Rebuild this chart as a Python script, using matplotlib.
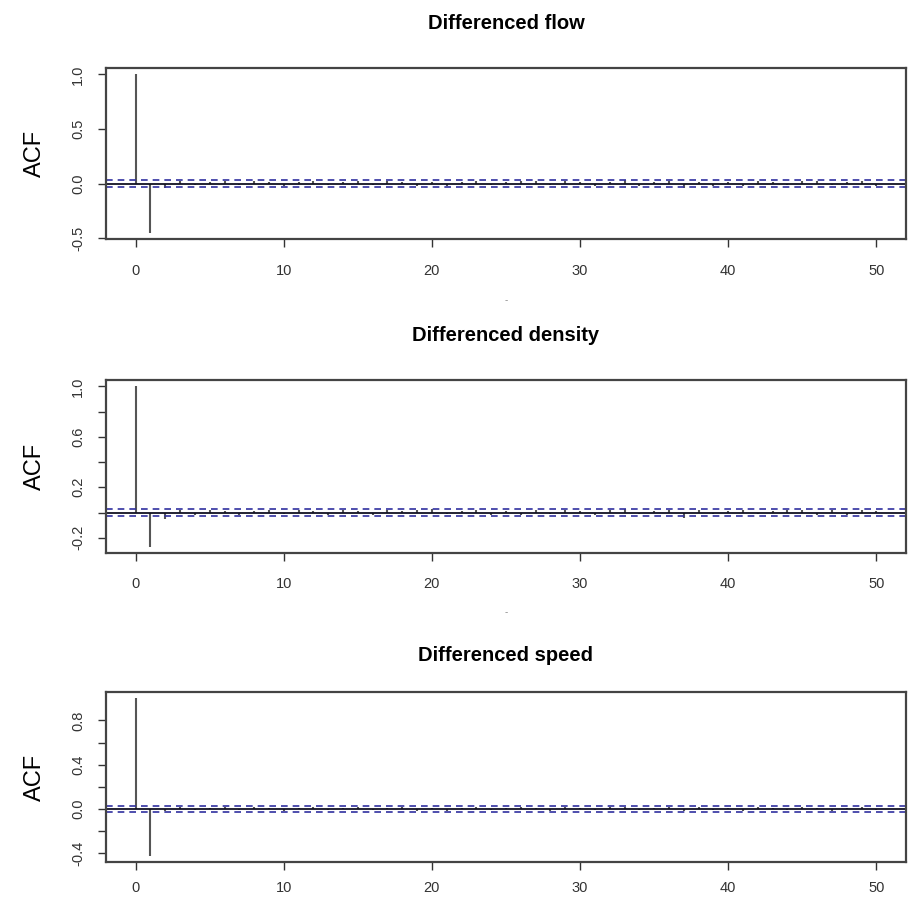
import numpy as np
import matplotlib
matplotlib.use("Agg")
import matplotlib.pyplot as plt

plt.rcParams['font.family'] = ['Liberation Sans', 'DejaVu Sans']

# ACF values, lags 0..50
lags = list(range(51))
flow_acf = [1.0, -0.45, -0.04, 0.02, -0.01, 0.01, 0.02, -0.01, 0.02, 0.01,
            -0.02, 0.01, 0.02, -0.01, 0.01, 0.02, -0.01, 0.02, 0.01, -0.02,
            0.01, -0.02, 0.01, 0.02, -0.01, 0.01, 0.02, 0.02, -0.01, 0.02,
            0.01, -0.02, 0.01, 0.03, -0.02, 0.01, 0.02, -0.04, 0.01, -0.02,
            0.01, -0.02, 0.02, 0.01, -0.01, 0.02, 0.02, -0.01, 0.01, 0.02, -0.02]
density_acf = [1.0, -0.27, -0.05, 0.02, -0.02, 0.02, 0.01, -0.02, 0.01, 0.02,
               -0.01, 0.02, 0.01, -0.02, 0.02, 0.01, -0.02, 0.02, 0.01, 0.02,
               0.03, -0.01, 0.01, 0.02, -0.02, 0.01, -0.02, 0.02, -0.01, 0.02,
               0.01, -0.02, 0.02, 0.03, -0.01, 0.01, 0.02, -0.04, 0.02, -0.01,
               0.01, 0.02, -0.01, 0.01, 0.02, 0.02, -0.02, 0.02, -0.02, 0.02, 0.01]
speed_acf = [1.0, -0.42, -0.02, 0.02, -0.01, 0.01, 0.02, -0.01, 0.02, 0.01,
             -0.02, 0.01, 0.02, -0.01, 0.01, 0.02, -0.01, 0.01, 0.02, -0.02,
             0.01, -0.02, 0.01, 0.02, -0.01, 0.01, 0.02, 0.01, -0.02, 0.02,
             0.01, -0.01, 0.02, 0.02, -0.01, 0.01, 0.02, -0.02, 0.02, -0.01,
             0.01, -0.02, 0.02, 0.01, -0.01, 0.02, 0.01, -0.02, 0.01, 0.02, -0.01]
conf_bound = 0.03

titles = ["Differenced flow", "Differenced density", "Differenced speed"]
series = [flow_acf, density_acf, speed_acf]
ytick_sets = [
    ([-0.5, 0.0, 0.5, 1.0], ["-0.5", "0.0", "0.5", "1.0"]),
    ([-0.2, 0.0, 0.2, 0.4, 0.6, 0.8, 1.0], ["-0.2", "", "0.2", "", "0.6", "", "1.0"]),
    ([-0.4, -0.2, 0.0, 0.2, 0.4, 0.6, 0.8], ["-0.4", "", "0.0", "", "0.4", "", "0.8"]),
]
xlabels = ["-", "-", ""]

W, H = 908, 910
fig = plt.figure(figsize=(W / 100, H / 100), dpi=100)

# panel boxes in pixels: (top, bottom)
boxes = [(68, 239), (380, 553), (692, 862)]
xlab_pad = [12, 11, 8]
title_pad = [28, 28, 22]
left, right = 106, 906

for i, vals in enumerate(series):
    top, bot = boxes[i]
    yt, yl = ytick_sets[i]
    ax = fig.add_axes([left / W, 1 - bot / H, (right - left) / W, (bot - top) / H])
    ax.vlines(lags, 0, vals, color='#555555', lw=1.5)
    ax.axhline(0, color='#111122', lw=1.3)
    ax.axhline(conf_bound, color='#3030a0', lw=1.2, ls=(0, (4, 3)))
    ax.axhline(-conf_bound, color='#3030a0', lw=1.2, ls=(0, (4, 3)))
    lo, hi = min(vals), max(vals)
    pad = (hi - lo) * 0.04
    ax.set_ylim(lo - pad, hi + pad)
    ax.set_xlim(-2, 52)
    ax.set_xticks([0, 10, 20, 30, 40, 50])
    ax.set_yticks(yt)
    ax.set_yticklabels(yl, rotation=90, va='center')
    ax.tick_params(labelsize=10.5, length=6, width=1, colors='#333333')
    ax.tick_params(axis='x', pad=xlab_pad[i])
    ax.tick_params(axis='y', pad=9)
    for s in ax.spines.values():
        s.set_color('#444444')
        s.set_linewidth(1.6)
    ax.set_ylabel("ACF", fontsize=17, labelpad=18)
    ax.set_title(titles[i], fontsize=14.5, fontweight='bold', pad=title_pad[i])
    if xlabels[i]:
        ax.set_xlabel(xlabels[i], fontsize=7, color='#888888', labelpad=12)

fig.savefig("out.png", dpi=100)
